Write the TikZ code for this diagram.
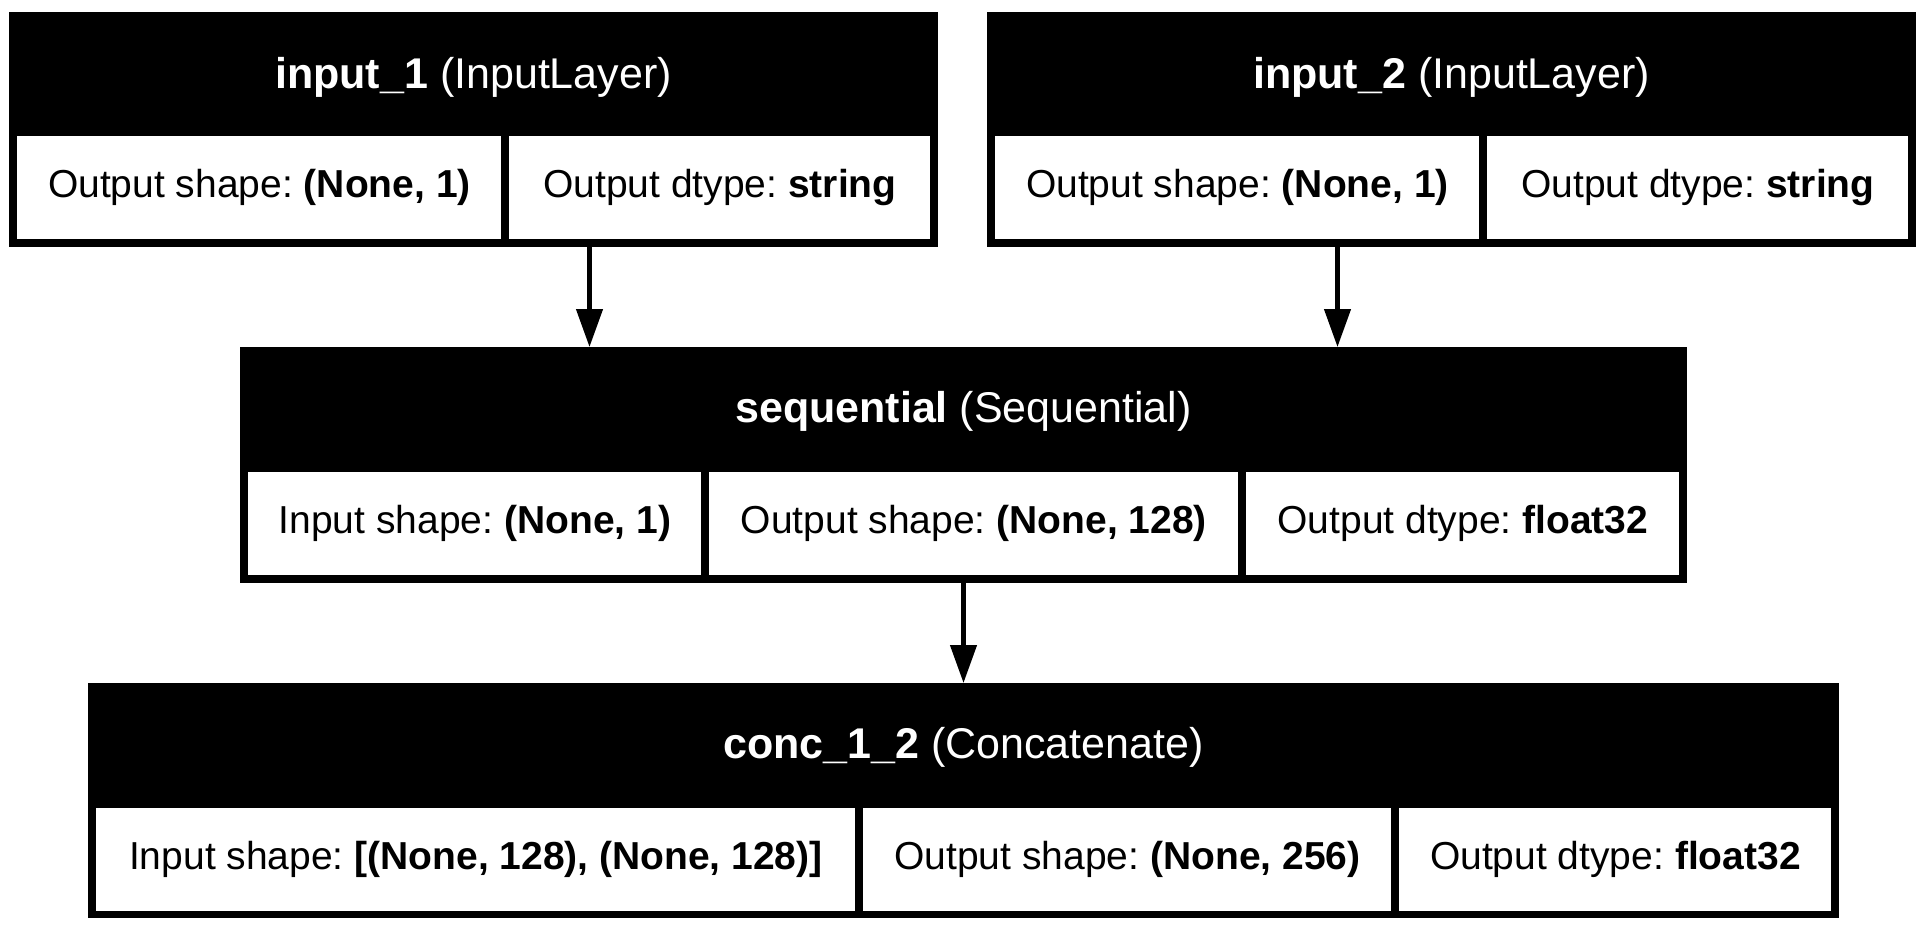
\documentclass[tikz,border=0pt]{standalone}
\usepackage{fontspec}
\setmainfont{Liberation Sans}
\frenchspacing
\usetikzlibrary{arrows.meta}

\tikzset{
  layerbox/.style={fill=black, inner sep=0pt, outer sep=0pt, anchor=north west},
  headtext/.style={text=white, inner sep=0pt, font=\fontsize{21.5}{26}\selectfont},
  cellbox/.style={fill=white, inner sep=0pt, anchor=north west, minimum height=51.5pt,
    font=\fontsize{19.5}{23}\selectfont},
  flow/.style={-{Triangle[length=19pt, width=13pt]}, line width=2.2pt},
}

\begin{document}
\begin{tikzpicture}[x=0.5pt, y=-0.5pt]
    \useasboundingbox (0,0) rectangle (1928,931);
    % input layers
    \node[layerbox, minimum width=464.5pt, minimum height=117.5pt] (in1) at (9,12) {};
    \node[headtext] (in1h) at (473.5,77) {\textbf{input\_1} (InputLayer)};
    \node[cellbox, minimum width=242pt] (in1a) at (17,136) {Output shape: \textbf{(None, 1)}};
    \node[cellbox, minimum width=210.5pt] (in1b) at (509,136) {Output dtype: \textbf{string}};
    \node[layerbox, minimum width=464.5pt, minimum height=117.5pt] (in2) at (987,12) {};
    \node[headtext] (in2h) at (1451.5,77) {\textbf{input\_2} (InputLayer)};
    \node[cellbox, minimum width=242pt] (in2a) at (995,136) {Output shape: \textbf{(None, 1)}};
    \node[cellbox, minimum width=210.5pt] (in2b) at (1487,136) {Output dtype: \textbf{string}};
    % sequential
    \node[layerbox, minimum width=723.5pt, minimum height=118pt] (seq) at (240,347) {};
    \node[headtext] (seqh) at (963.5,411.5) {\textbf{sequential} (Sequential)};
    \node[cellbox, minimum width=226.5pt] (seqa) at (248,472) {Input shape: \textbf{(None, 1)}};
    \node[cellbox, minimum width=264.5pt] (seqb) at (709,472) {Output shape: \textbf{(None, 128)}};
    \node[cellbox, minimum width=216.5pt] (seqc) at (1246,472) {Output dtype: \textbf{float32}};
    % concatenate
    \node[layerbox, minimum width=875.5pt, minimum height=117.5pt] (conc) at (88,683) {};
    \node[headtext] (conch) at (963.5,747.5) {\textbf{conc\_1\_2} (Concatenate)};
    \node[cellbox, minimum width=379.5pt] (conca) at (96,808) {Input shape: \textbf{[(None, 128), (None, 128)]}};
    \node[cellbox, minimum width=264pt] (concb) at (863,808) {Output shape: \textbf{(None, 256)}};
    \node[cellbox, minimum width=216pt] (concc) at (1399,808) {Output dtype: \textbf{float32}};
    % connectors
    \coordinate (e1) at ([xshift=-187pt]seq.north);
    \coordinate (e2) at ([xshift=187pt]seq.north);
    \draw[flow] (in1.south -| e1) -- (e1);
    \draw[flow] (in2.south -| e2) -- (e2);
    \draw[flow] (seq.south) -- (conc.north);
\end{tikzpicture}
\end{document}
